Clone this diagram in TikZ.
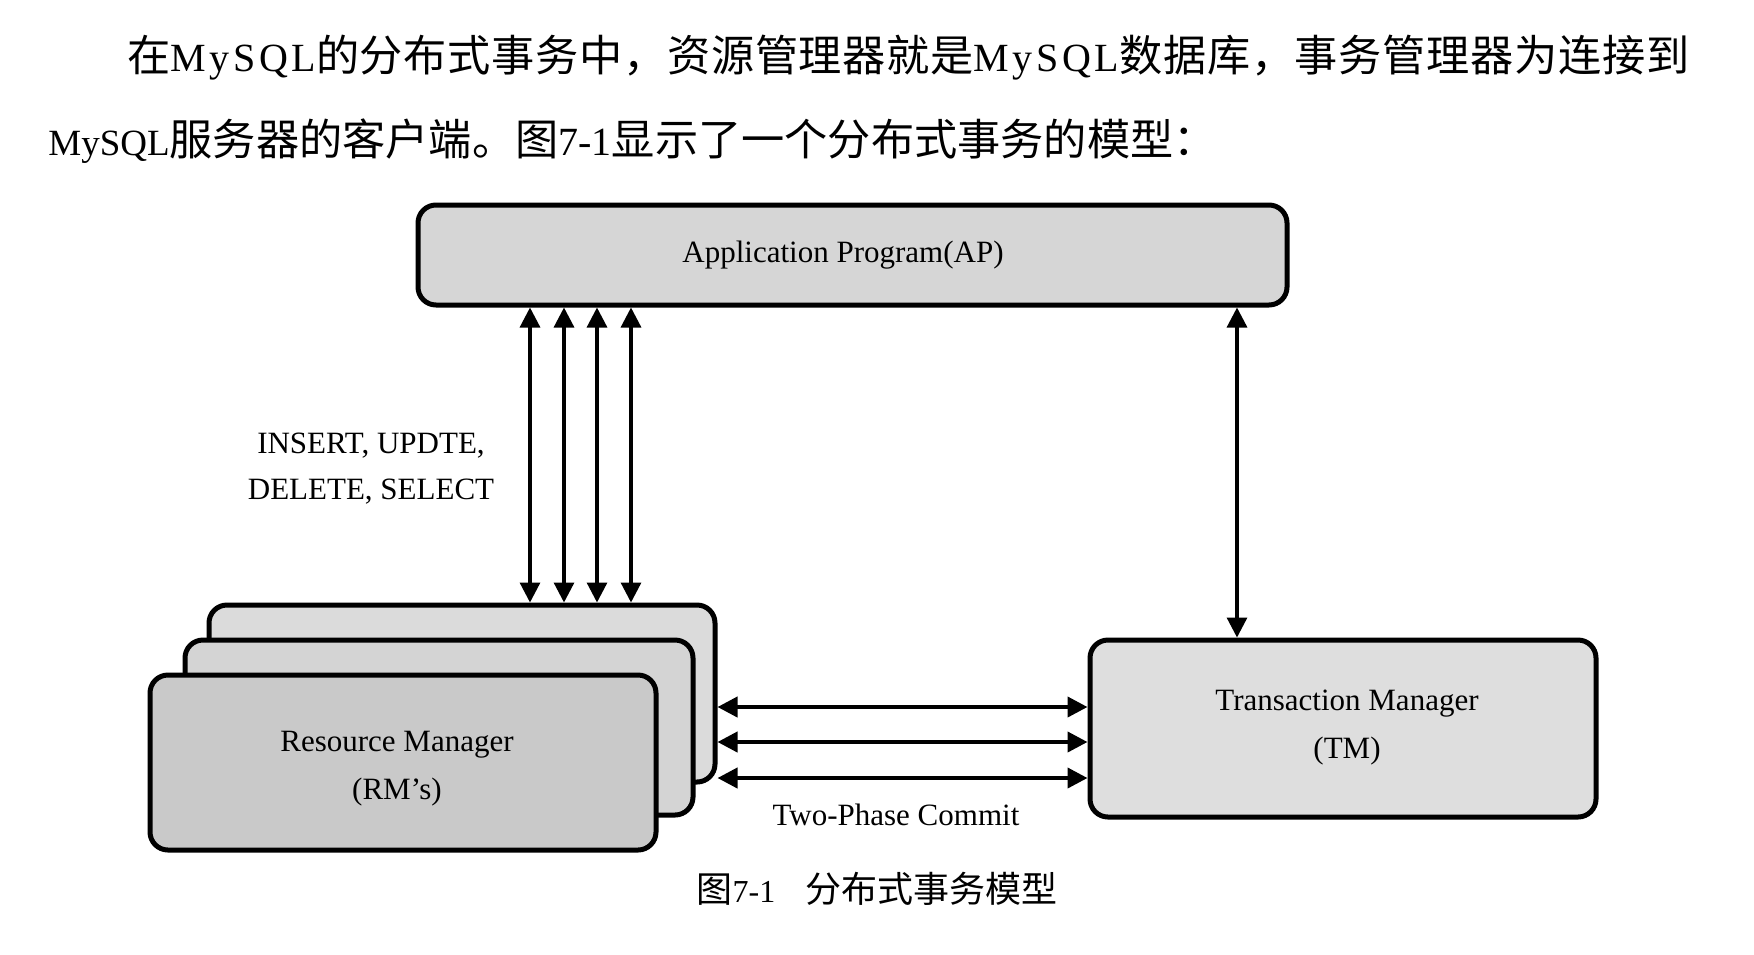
\documentclass[tikz,border=0pt]{standalone}
\usepackage{fontspec}
\setmainfont{Liberation Serif}
\newfontfamily\cjk{Noto Sans CJK SC}
\newfontfamily\cjkwide[LetterSpace=1.6]{Noto Sans CJK SC}
\newfontfamily\latwide[LetterSpace=9]{Liberation Serif}
\usetikzlibrary{arrows.meta}
\begin{document}
\begin{tikzpicture}[x=0.5pt,y=-0.5pt,
  box/.style={draw=black, line width=2.5pt, rounded corners=9pt, inner sep=0pt},
  boxtext/.style={align=center, font=\fontsize{15.5pt}{24pt}\selectfont, inner sep=0pt},
  dbl/.style={line width=1.6pt, {Triangle[length=10pt,width=10pt]}-{Triangle[length=10pt,width=10pt]}},
  lbl/.style={font=\fontsize{15.5pt}{23pt}\selectfont, align=center, inner sep=0pt},
  titletext/.style={anchor=west, inner sep=0pt, font=\fontsize{21.6pt}{26pt}\selectfont}]
\useasboundingbox (0,0) rectangle (1754,954);
\fill[white] (0,0) rectangle (1754,954);

% title text
\node[titletext] (t1) at (127,58) {{\cjkwide 在}{\latwide\fontsize{20pt}{24pt}\selectfont MySQL}{\cjkwide 的分布式事务中，资源管理器就是}{\latwide\fontsize{20pt}{24pt}\selectfont MySQL}{\cjkwide 数据库，事务管理器为连接到}};
\node[titletext] (t2) at (48,141) {{\fontsize{18.5pt}{24pt}\selectfont MySQL}{\cjk 服务器的客户端。图}{\fontsize{20pt}{24pt}\selectfont 7-1}{\cjk 显示了一个分布式事务的模型：}};

% boxes
\node[box, fill=black!16, minimum width=434.5pt, minimum height=50pt] (ap) at (852.5,255) {};
\node[box, fill=black!14, minimum width=253pt, minimum height=88.5pt] (rmc) at (462,693.5) {};
\node[box, fill=black!17, minimum width=254pt, minimum height=87.5pt] (rmb) at (439,727.5) {};
\node[box, fill=black!21, minimum width=253pt, minimum height=87.5pt] (rma) at (403,762.5) {};
\node[box, fill=black!13, minimum width=253pt, minimum height=88.5pt] (tm) at (1343,728.5) {};

% box texts
\node[boxtext] (aptext) at (843,255) {Application Program(AP)};
\node[boxtext] (rmtext) at (397,769) {Resource Manager\\(RM’s)};
\node[boxtext] (tmtext) at (1347,728) {Transaction Manager\\(TM)};

% coordinates for connector positions
\coordinate (v1) at (530,0);
\coordinate (v2) at (564,0);
\coordinate (v3) at (597,0);
\coordinate (v4) at (631,0);
\coordinate (v5) at (1237,0);
\coordinate (h1) at (0,707);
\coordinate (h2) at (0,742);
\coordinate (h3) at (0,778);

\foreach \v in {v1,v2,v3,v4}
  \draw[dbl] (ap.south -| \v) -- (rmc.north -| \v);
\draw[dbl] (ap.south -| v5) -- (tm.north -| v5);
\foreach \h in {h1,h2,h3}
  \draw[dbl, line width=2pt] (rmc.east |- \h) -- (tm.west |- \h);

% labels
\node[lbl] (sql) at (371,469) {INSERT, UPDTE,\\DELETE, SELECT};
\node[lbl] (tpc) at (896,815) {Two-Phase Commit};
\node[inner sep=0pt, font=\fontsize{18pt}{22pt}\selectfont] (cap) at (877,889) {{\cjk 图}{\fontsize{16pt}{20pt}\selectfont 7-1}\hspace{15pt}{\cjk 分布式事务模型}};
\end{tikzpicture}
\end{document}
